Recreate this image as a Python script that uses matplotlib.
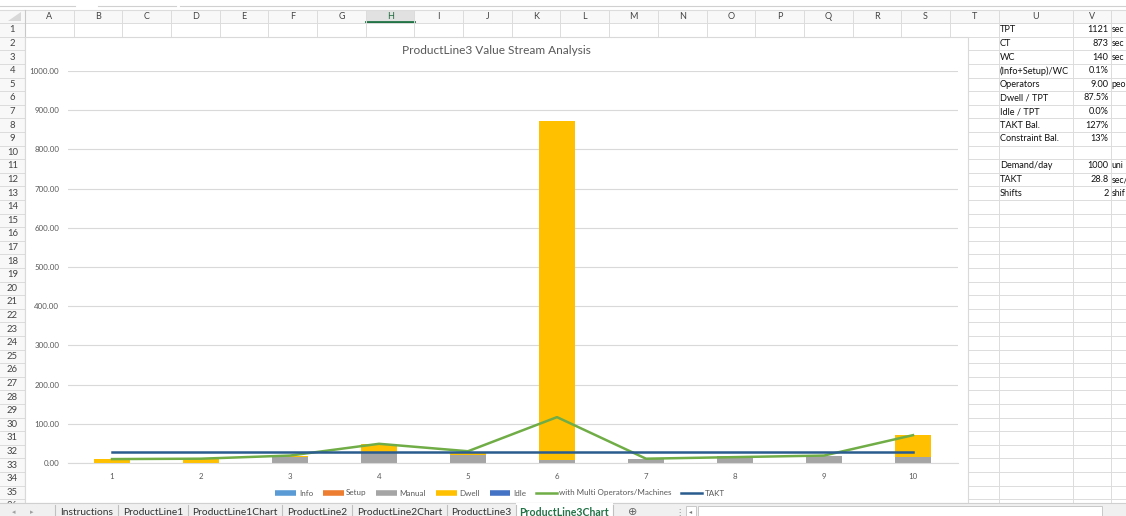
import matplotlib
matplotlib.use('Agg')
import matplotlib.pyplot as plt
from matplotlib.lines import Line2D
from matplotlib.patches import Rectangle

# ---------------- data ----------------
steps = ['1', '2', '3', '4', '5', '6', '7', '8', '9', '10']
info = [0, 0, 0, 0, 0, 0, 0, 0, 0, 0]
setup = [0, 0, 0, 0, 0, 0, 0, 0, 0, 0]
manual = [0, 0, 15, 25, 20, 8, 11, 18, 19, 15]
dwell = [11, 11, 4, 24, 9, 865, 0, 0, 0, 56]
idle = [0, 0, 0, 0, 0, 0, 0, 0, 0, 0]
multi = [10, 11, 19, 49, 30, 117, 11, 15, 19, 71]
takt = [28.8] * 10
yticks = [0, 100, 200, 300, 400, 500, 600, 700, 800, 900, 1000]

chart_title = 'ProductLine3 Value Stream Analysis'
series_names = ['Info', 'Setup', 'Manual', 'Dwell', 'Idle',
                'with Multi Operators/Machines', 'TAKT']

col_letters = ['A', 'B', 'C', 'D', 'E', 'F', 'G', 'H', 'I', 'J', 'K', 'L',
               'M', 'N', 'O', 'P', 'Q', 'R', 'S', 'T', 'U', 'V']
table_labels = ['TPT', 'CT', 'WC', '(Info+Setup)/WC', 'Operators', 'Dwell / TPT',
                'Idle / TPT', 'TAKT Bal.', 'Constraint Bal.', '', 'Demand/day',
                'TAKT', 'Shifts']
table_values = ['1121', '873', '140', '0.1%', '9.00', '87.5%', '0.0%', '127%',
                '13%', '', '1000', '28.8', '2']
# unit texts as far as they are visible before the window edge
table_units = ['sec', 'sec', 'sec', '', 'peo', '', '', '', '', '', 'uni',
               'sec/', 'shif']
tabs = ['Instructions', 'ProductLine1', 'ProductLine1Chart', 'ProductLine2',
        'ProductLine2Chart', 'ProductLine3', 'ProductLine3Chart']

# ---------------- figure ----------------
FONT = ['Lato', 'DejaVu Sans']
plt.rcParams['font.family'] = FONT
W, H = 1126, 516
fig = plt.figure(figsize=(W / 100, H / 100), dpi=100)
fig.patch.set_facecolor('white')

bg = fig.add_axes([0, 0, 1, 1])
bg.set_xlim(0, W)
bg.set_ylim(H, 0)
bg.axis('off')

grid_c = '#DCDCDC'
hdr_txt = '#444444'

# column boundaries
cw = 48.68
bounds = [25 + cw * i for i in range(21)] + [1073, 1111, 1160]
row_top = 23.2
rh = 13.6
n_rows = 36
row_edges = [row_top + rh * k for k in range(n_rows + 1)]

# faint top lines (formula bar edges)
for a, b in [(0, 75), (98, 176), (180, W)]:
    bg.plot([a, b], [6, 6], color='#D0D0D0', lw=0.8)

# header band
bg.add_patch(Rectangle((0, 10), W, row_top - 10, facecolor='#F8F8F8',
                       edgecolor='none'))
bg.add_patch(Rectangle((0, 10), 25, 500, facecolor='#F8F8F8', edgecolor='none'))
# selected column H
hx0, hx1 = bounds[7], bounds[8]
bg.add_patch(Rectangle((hx0, 10), hx1 - hx0, row_top - 10, facecolor='#E1E1E1',
                       edgecolor='none'))
bg.plot([hx0, hx1], [row_top - 0.8, row_top - 0.8], color='#217346', lw=2)
bg.plot([0, W], [10, 10], color=grid_c, lw=0.8)

# grid lines
for y in row_edges:
    bg.plot([0, W], [y, y], color=grid_c, lw=0.7)
for x in bounds:
    bg.plot([x, x], [10, 503], color=grid_c, lw=0.7)
bg.plot([25, 25], [10, 503], color='#C8C8C8', lw=0.8)

# column letters
for i, letter in enumerate(col_letters):
    cx = (bounds[i] + bounds[i + 1]) / 2
    col = '#1E6B3F' if letter == 'H' else hdr_txt
    bg.text(cx, 16.8, letter, ha='center', va='center', fontsize=6.5, color=col)
# corner triangle
bg.fill([8, 21, 21], [21, 21, 12], color='#D8D8D8', lw=0)

# row numbers
for r in range(1, n_rows + 1):
    cy = row_top + rh * (r - 0.5)
    bg.text(12.5, cy, str(r), ha='center', va='center', fontsize=6.8,
            color=hdr_txt)

# right-hand table
for r, (lab, val, unit) in enumerate(zip(table_labels, table_values, table_units), 1):
    cy = row_top + rh * (r - 0.5)
    bg.text(1000, cy, lab, ha='left', va='center', fontsize=6.6, color='#111111')
    bg.text(1108.5, cy, val, ha='right', va='center', fontsize=6.6, color='#111111')
    if unit:
        bg.text(1111.5, cy, unit, ha='left', va='center', fontsize=6.3,
                color='#111111')

# chart area
bg.add_patch(Rectangle((25, 37), 968 - 25, 503 - 37, facecolor='white',
                       edgecolor='#D9D9D9', lw=0.8, zorder=5))
bg.text(496, 51, chart_title, ha='center', va='center', fontsize=8.6,
        color='#595959', zorder=6)

# sheet tab bar
bg.add_patch(Rectangle((0, 503), W, 13, facecolor='#F0F0F0', edgecolor='none',
                       zorder=7))
bg.plot([0, W], [503, 503], color='#D0D0D0', lw=0.8, zorder=8)
bg.text(14, 512.5, '\u25C2', ha='center', va='center', fontsize=5,
        color='#A0A0A0', zorder=8, family=['DejaVu Sans'])
bg.text(32, 512.5, '\u25B8', ha='center', va='center', fontsize=5,
        color='#A0A0A0', zorder=8, family=['DejaVu Sans'])
tab_edges = [55, 118, 188, 282, 352, 447, 516, 613]
for i, name in enumerate(tabs):
    x0, x1 = tab_edges[i], tab_edges[i + 1]
    active = (i == len(tabs) - 1)
    if active:
        bg.add_patch(Rectangle((x0, 503), x1 - x0, 14, facecolor='white',
                               edgecolor='none', zorder=8))
    bg.plot([x0, x0], [505, 516], color='#C0C0C0', lw=0.8, zorder=9)
    bg.text((x0 + x1) / 2, 512.5, name, ha='center', va='center',
            fontsize=7.4 if not active else 7.6,
            fontweight='bold' if active else 'normal',
            color='#217346' if active else '#333333', zorder=9)
bg.plot([613, 613], [505, 516], color='#C0C0C0', lw=0.8, zorder=9)
bg.text(633, 512, '\u2295', ha='center', va='center', fontsize=8,
        color='#666666', zorder=9, family=['DejaVu Sans'])
bg.text(679, 512, '\u22EE', ha='center', va='center', fontsize=6,
        color='#888888', zorder=9, family=['DejaVu Sans'])
bg.add_patch(Rectangle((686, 506), 10, 11, facecolor='white', edgecolor='#C8C8C8',
                       lw=0.7, zorder=9))
bg.text(691, 512, '\u25C2', ha='center', va='center', fontsize=4.5,
        color='#777777', zorder=10, family=['DejaVu Sans'])
bg.add_patch(Rectangle((698, 506), 404, 11, facecolor='white', edgecolor='#C8C8C8',
                       lw=0.7, zorder=9))

# ---------------- chart ----------------
ax = fig.add_axes([67.5 / W, (H - 463) / H, 890 / W, 392 / H], zorder=10)
ax.patch.set_alpha(0)
x = list(range(1, len(steps) + 1))

b0 = [0] * len(x)
b1 = [a + b for a, b in zip(b0, info)]
b2 = [a + b for a, b in zip(b1, setup)]
b3 = [a + b for a, b in zip(b2, manual)]
b4 = [a + b for a, b in zip(b3, dwell)]
bw = 0.4
ax.bar(x, info, width=bw, bottom=b0, color='#5B9BD5', zorder=2)
ax.bar(x, setup, width=bw, bottom=b1, color='#ED7D31', zorder=2)
ax.bar(x, manual, width=bw, bottom=b2, color='#A5A5A5', zorder=2)
ax.bar(x, dwell, width=bw, bottom=b3, color='#FFC000', zorder=2)
ax.bar(x, idle, width=bw, bottom=b4, color='#4472C4', zorder=2)
ax.plot(x, multi, color='#70AD47', lw=1.8, zorder=3)
ax.plot(x, takt, color='#2B5C8F', lw=1.8, zorder=4)

ax.set_xlim(0.5, len(x) + 0.5)
ax.set_ylim(0, 1000)
ax.set_yticks(yticks)
ax.set_yticklabels([f'{v:.2f}' for v in yticks])
ax.set_xticks(x)
ax.set_xticklabels(steps)
ax.tick_params(axis='both', length=0, labelsize=5.7, labelcolor='#595959')
ax.tick_params(axis='y', pad=6)
ax.tick_params(axis='x', pad=7)
ax.grid(axis='y', color='#D9D9D9', lw=0.8, zorder=0)
ax.set_axisbelow(True)
for s in ['top', 'right', 'left']:
    ax.spines[s].set_visible(False)
ax.spines['bottom'].set_color('#D9D9D9')
ax.spines['bottom'].set_linewidth(0.8)

handles = [
    Line2D([], [], color='#5B9BD5', lw=4, solid_capstyle='butt'),
    Line2D([], [], color='#ED7D31', lw=4, solid_capstyle='butt'),
    Line2D([], [], color='#A5A5A5', lw=4, solid_capstyle='butt'),
    Line2D([], [], color='#FFC000', lw=4, solid_capstyle='butt'),
    Line2D([], [], color='#4472C4', lw=4, solid_capstyle='butt'),
    Line2D([], [], color='#70AD47', lw=1.8),
    Line2D([], [], color='#2B5C8F', lw=1.8),
]
leg = fig.legend(handles, series_names, loc='center', ncol=7,
                 bbox_to_anchor=(500 / W, 1 - 493 / H), frameon=False,
                 fontsize=5.8, handlelength=2.6, handletextpad=0.3,
                 columnspacing=1.2, labelcolor='#595959')
leg.set_zorder(20)

fig.savefig('out.png', dpi=100)
